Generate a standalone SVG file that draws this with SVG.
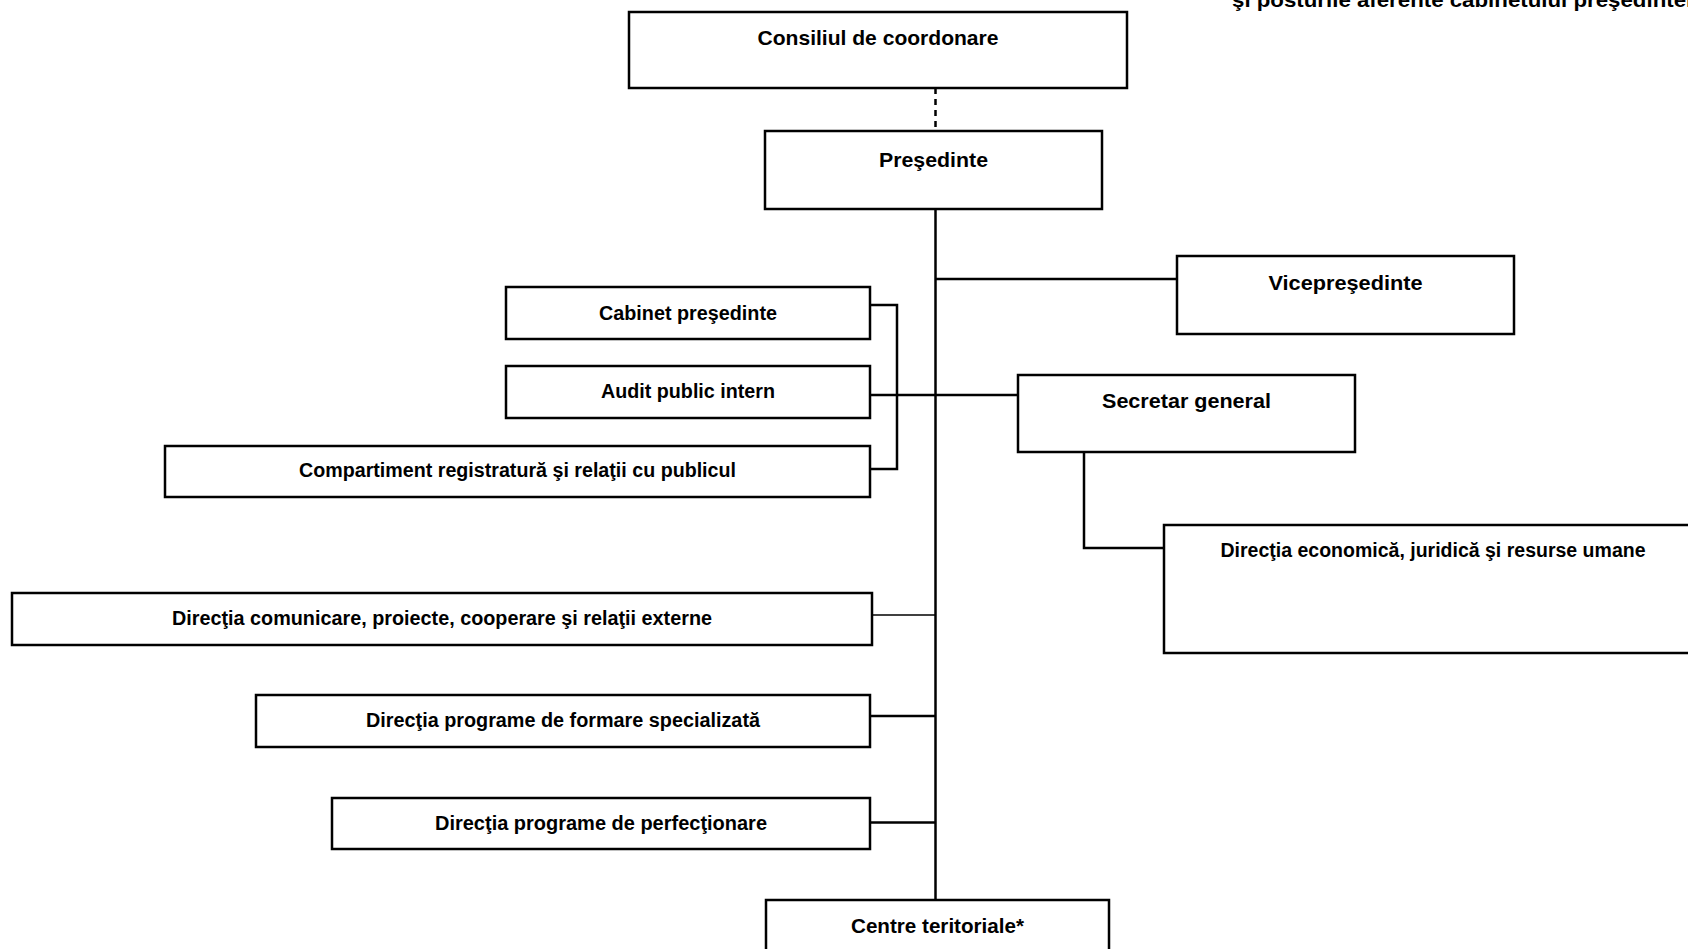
<svg xmlns="http://www.w3.org/2000/svg" width="1688" height="949" viewBox="0 0 1688 949">
<style>
.box{fill:#fff;stroke:#000;stroke-width:2.5}
.t{font-family:"Liberation Sans",Arial,sans-serif;font-weight:bold;fill:#000;text-anchor:middle}
.big{font-size:21px}
.sm{font-size:19.5px}
.ln{fill:none;stroke:#000;stroke-width:2.5}
.thin{fill:none;stroke:#000;stroke-width:1.5}
</style>
<rect width="1688" height="949" fill="#fff"/>
<text x="1232" y="7" class="t big" style="text-anchor:start" textLength="480" lengthAdjust="spacingAndGlyphs">şi posturile aferente cabinetului preşedintelui</text>
<g id="connectors">
<line class="ln" x1="935.5" y1="88" x2="935.5" y2="131" stroke-dasharray="6,5"/>
<line class="ln" x1="935.5" y1="209" x2="935.5" y2="900"/>
<line class="ln" x1="935.5" y1="279" x2="1177" y2="279"/>
<polyline class="ln" points="870,305 897,305 897,469 870,469"/>
<line class="ln" x1="870" y1="395" x2="1018" y2="395"/>
<polyline class="ln" points="1084,452 1084,548 1164,548"/>
<line class="thin" x1="872" y1="615" x2="935.5" y2="615"/>
<line class="ln" x1="870" y1="716" x2="935.5" y2="716"/>
<line class="ln" x1="870" y1="822.5" x2="935.5" y2="822.5"/>
</g>
<g id="consiliul"><rect class="box" x="629" y="12" width="498" height="76"/><text class="t big" x="878" y="45" textLength="241" lengthAdjust="spacingAndGlyphs">Consiliul de coordonare</text></g>
<g id="presedinte"><rect class="box" x="765" y="131" width="337" height="78"/><text class="t big" x="933.5" y="167" textLength="109" lengthAdjust="spacingAndGlyphs">Preşedinte</text></g>
<g id="vicepresedinte"><rect class="box" x="1177" y="256" width="337" height="78"/><text class="t big" x="1345.5" y="290" textLength="154" lengthAdjust="spacingAndGlyphs">Vicepreşedinte</text></g>
<g id="cabinet"><rect class="box" x="506" y="287" width="364" height="52"/><text class="t sm" x="688" y="320" textLength="178" lengthAdjust="spacingAndGlyphs">Cabinet preşedinte</text></g>
<g id="audit"><rect class="box" x="506" y="366" width="364" height="52"/><text class="t sm" x="688" y="398" textLength="174" lengthAdjust="spacingAndGlyphs">Audit public intern</text></g>
<g id="compartiment"><rect class="box" x="165" y="446" width="705" height="51"/><text class="t sm" x="517.5" y="477" textLength="437" lengthAdjust="spacingAndGlyphs">Compartiment registratură şi relaţii cu publicul</text></g>
<g id="secretar"><rect class="box" x="1018" y="375" width="337" height="77"/><text class="t big" x="1186.5" y="408" textLength="169" lengthAdjust="spacingAndGlyphs">Secretar general</text></g>
<g id="dir-economica"><rect class="box" x="1164" y="525" width="540" height="128"/><text class="t sm" x="1433" y="557" textLength="425" lengthAdjust="spacingAndGlyphs">Direcţia economică, juridică şi resurse umane</text></g>
<g id="dir-comunicare"><rect class="box" x="12" y="593" width="860" height="52"/><text class="t sm" x="442" y="625" textLength="540" lengthAdjust="spacingAndGlyphs">Direcţia comunicare, proiecte, cooperare şi relaţii externe</text></g>
<g id="dir-formare"><rect class="box" x="256" y="695" width="614" height="52"/><text class="t sm" x="563" y="727" textLength="394" lengthAdjust="spacingAndGlyphs">Direcţia programe de formare specializată</text></g>
<g id="dir-perfectionare"><rect class="box" x="332" y="798" width="538" height="51"/><text class="t sm" x="601" y="830" textLength="332" lengthAdjust="spacingAndGlyphs">Direcţia programe de perfecţionare</text></g>
<g id="centre"><rect class="box" x="766" y="900" width="343" height="70"/><text class="t sm" x="937.5" y="933" textLength="173" lengthAdjust="spacingAndGlyphs">Centre teritoriale*</text></g>
</svg>
